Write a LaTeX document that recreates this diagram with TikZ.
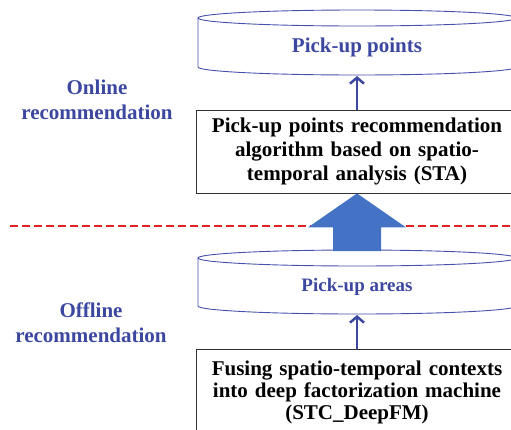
\documentclass[tikz,border=0pt]{standalone}
\usepackage{fontspec}
\setmainfont{Liberation Serif}
\usetikzlibrary{arrows.meta,calc}
\definecolor{txtblue}{RGB}{60,72,160}
\definecolor{cylblue}{RGB}{70,80,170}
\definecolor{bigblue}{RGB}{68,114,196}
\definecolor{dashred}{RGB}{222,35,35}
\begin{document}
\begin{tikzpicture}[x=1pt,y=-1pt,
 lbl/.style={font=\fontsize{21}{25}\selectfont\bfseries, text=txtblue, align=center, inner sep=0pt},
 cyltext/.style={text=txtblue, inner sep=0pt},
 algbox/.style={draw=black!80, line width=0.8pt, align=center, minimum width=322pt, text width=316pt, inner sep=0pt, fill=white},
 cylline/.style={draw=cylblue, line width=0.9pt},
 flow/.style={draw=txtblue, line width=2.5pt, -{Straight Barb[length=6pt,width=14pt]}},
 sep/.style={draw=dashred, line width=2.2pt, dash pattern=on 8pt off 4pt},
]
\useasboundingbox (0,0) rectangle (511,429);
\clip (0,0) rectangle (511,429);

% separator
\coordinate (dl) at (10,226);
\coordinate (dr) at (511,226);
\draw[sep] (dl) -- (dr);

% left labels
\node[lbl] (on) at (97,100) {Online\\recommendation};
\node[lbl] (off) at (91,323) {Offline\\recommendation};

% top cylinder
\draw[cylline] (357,18) ellipse[x radius=159pt, y radius=8pt];
\draw[cylline] (198,18) -- (198,67) arc[start angle=180,end angle=360,x radius=159pt,y radius=8pt] -- (516,18);
\node[cyltext, font=\fontsize{21}{25}\selectfont\bfseries] (pp) at (357,47) {Pick-up points};
\coordinate (ppbot) at (357,76);

% STA box
\node[algbox, minimum height=83pt, font=\fontsize{21}{24}\selectfont\bfseries] (sta) at (357,151.5)
 {Pick-up points recommendation\\algorithm based on spatio-\\temporal analysis (STA)};
\draw[flow] (sta.north) -- (ppbot);

% bottom cylinder
\draw[cylline] (357,258) ellipse[x radius=159pt, y radius=8pt];
\draw[cylline] (198,258) -- (198,306) arc[start angle=180,end angle=360,x radius=159pt,y radius=8pt] -- (516,258);
\node[cyltext, font=\fontsize{19}{23}\selectfont\bfseries] (pa) at (357,287) {Pick-up areas};
\coordinate (pabot) at (357,315);
\coordinate (patop) at (357,251);

% big arrow
\fill[bigblue] (sta.south) -- ($(sta.south)+(-49,34)$) -- ($(sta.south)+(-24,34)$)
  -- ($(patop)+(-24,0)$) -- ($(patop)+(24,0)$) -- ($(sta.south)+(24,34)$)
  -- ($(sta.south)+(49,34)$) -- cycle;

% fusing box
\node[algbox, minimum height=86pt, font=\fontsize{21}{22}\selectfont\bfseries] (fus) at (357,392)
 {Fusing spatio-temporal contexts\\into deep factorization machine\\(STC\_DeepFM)};
\draw[flow] (fus.north) -- (pabot);
\end{tikzpicture}
\end{document}
